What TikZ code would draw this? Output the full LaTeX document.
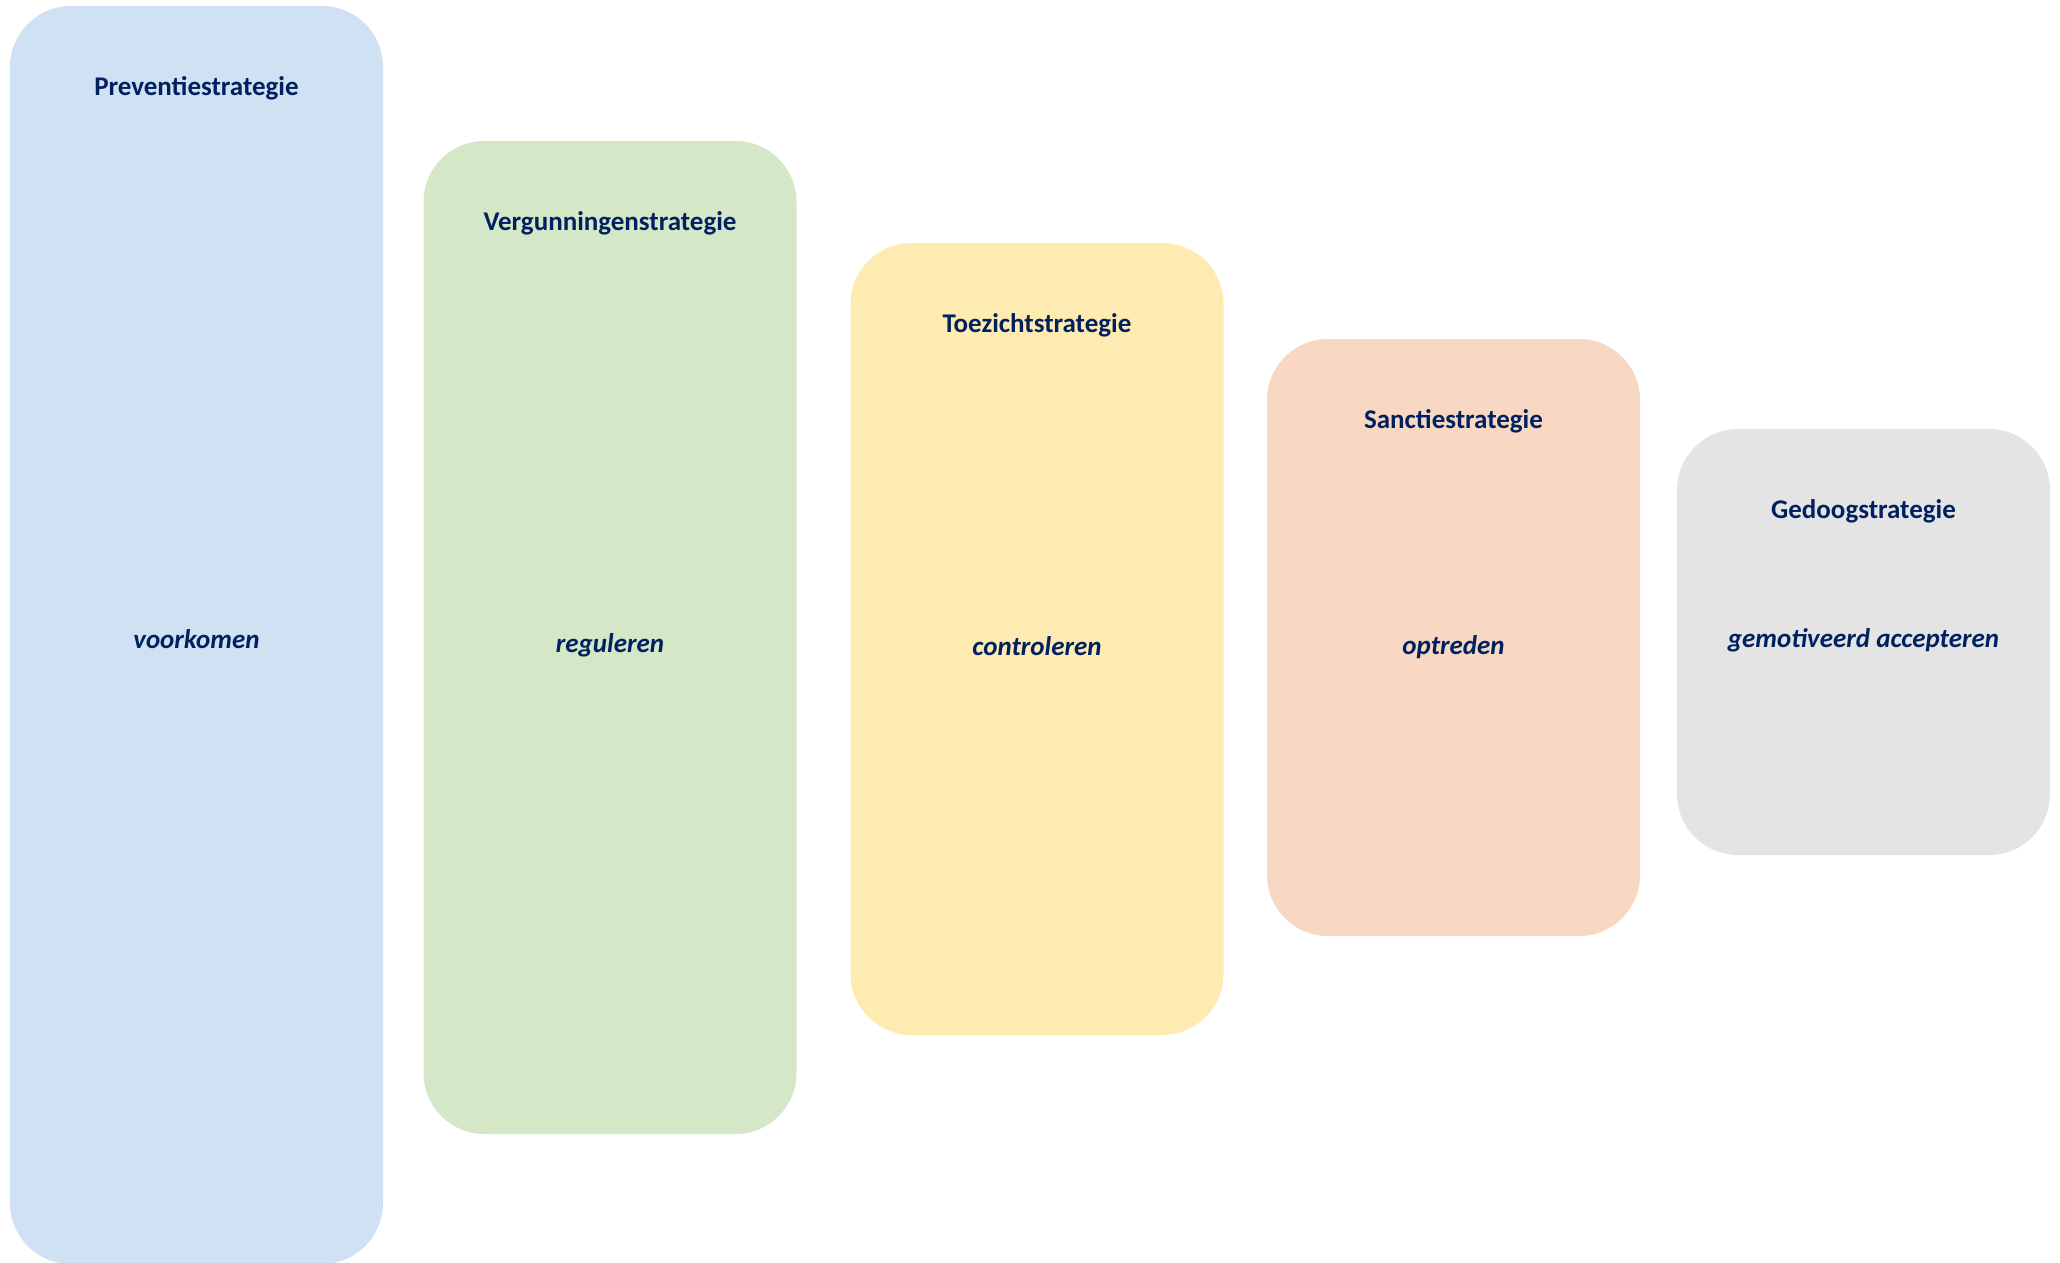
\documentclass[tikz,border=0pt]{standalone}
\usepackage{fontspec}
\setmainfont{Carlito}
\definecolor{navy}{HTML}{002060}
\definecolor{cblue}{HTML}{CFE1F2}
\definecolor{cgreen}{HTML}{D4E7C6}
\definecolor{cyellow}{HTML}{FEEBB2}
\definecolor{cpeach}{HTML}{F8D8C2}
\definecolor{cgray}{HTML}{E4E4E4}
\begin{document}
\begin{tikzpicture}[x=1pt,y=-1pt,
  stratbox/.style={draw=none, rounded corners=61pt, minimum width=373pt, inner sep=0pt, outer sep=0pt},
  titletext/.style={anchor=base, inner sep=0pt, text=navy, font=\fontsize{27}{30}\selectfont\bfseries},
  verbtext/.style={anchor=base, inner sep=0pt, text=navy, font=\fontsize{27}{30}\selectfont\bfseries\itshape}]
\useasboundingbox (0,0) rectangle (2060,1262);
\fill[white] (0,0) rectangle (2060,1262);
\node[stratbox, fill=cblue,   minimum height=1258pt] (b1) at (196.5,635) {};
\node[stratbox, fill=cgreen,  minimum height=993pt]  (b2) at (610,637.5) {};
\node[stratbox, fill=cyellow, minimum height=792pt]  (b3) at (1037,639) {};
\node[stratbox, fill=cpeach,  minimum height=597pt]  (b4) at (1453.5,637.5) {};
\node[stratbox, fill=cgray,   minimum height=426pt]  (b5) at (1863.5,642) {};
\node[titletext] (t1) at (196.5,95) {Preventiestrategie};
\node[titletext] (t2) at (610,230) {Vergunningenstrategie};
\node[titletext] (t3) at (1037,332) {Toezichtstrategie};
\node[titletext] (t4) at (1453.5,428) {Sanctiestrategie};
\node[titletext] (t5) at (1863.5,518) {Gedoogstrategie};
\node[verbtext] (v1) at (196.5,648) {voorkomen};
\node[verbtext] (v2) at (610,652) {reguleren};
\node[verbtext] (v3) at (1037,655) {controleren};
\node[verbtext] (v4) at (1453.5,654) {optreden};
\node[verbtext] (v5) at (1863.5,647) {gemotiveerd accepteren};
\end{tikzpicture}
\end{document}
